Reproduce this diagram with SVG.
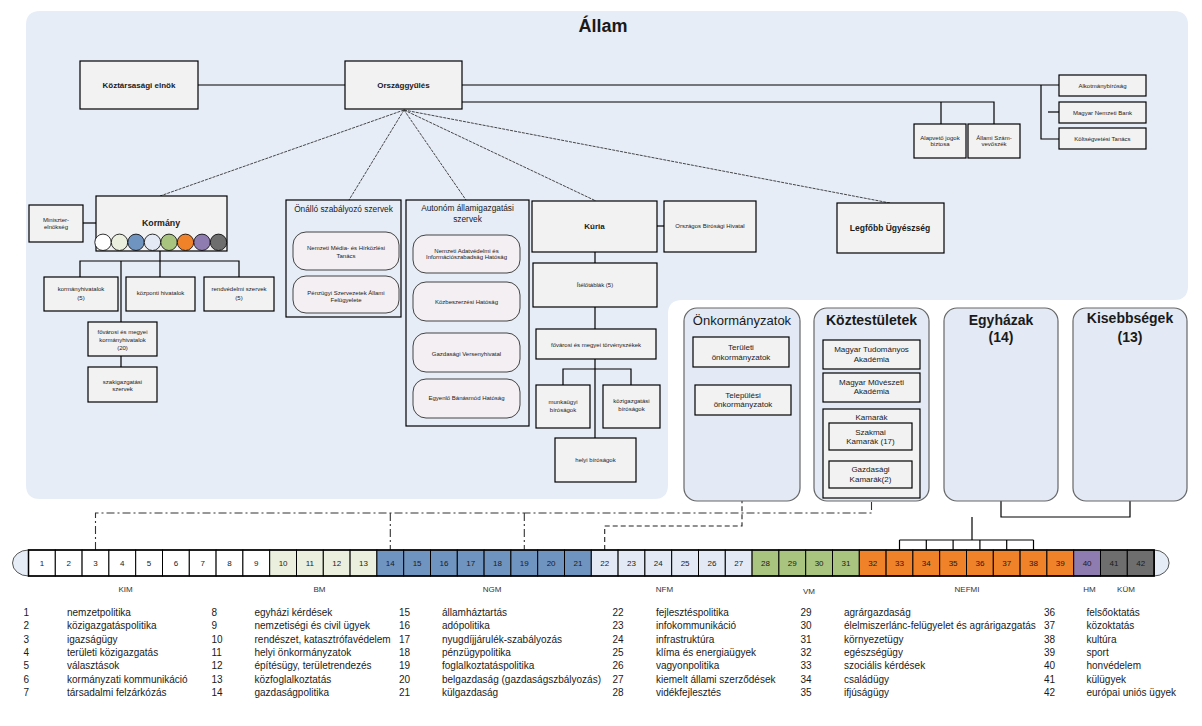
<svg xmlns="http://www.w3.org/2000/svg" width="1202" height="726" viewBox="0 0 1202 726">
<style>
text{font-family:"Liberation Sans",Arial,sans-serif;fill:#1a1a1a}
.t{text-anchor:middle}
.s6{font-size:6px}
.s8{font-size:8px}
.b{font-weight:bold}
.box{fill:#f2f2f2;stroke:#000;stroke-width:1.2}
.rbox{fill:#f3eff3;stroke:#444;stroke-width:1}
.grp{fill:#e6edf7;stroke:#000;stroke-width:1.2}
.pan{fill:#e3eaf5;stroke:#666;stroke-width:1.2}
.ln{fill:none;stroke:#000;stroke-width:1.2}
.fan{fill:none;stroke:#333;stroke-width:0.9;stroke-dasharray:3 1}
.dd{fill:none;stroke:#333;stroke-width:1.1;stroke-dasharray:8 3 2 3}
.da{fill:none;stroke:#222;stroke-width:1.1;stroke-dasharray:5 3}
.cell{stroke:#000;stroke-width:1}
.num{font-size:8px;text-anchor:middle}
.min{font-size:8px;text-anchor:middle;fill:#333}
.lg{font-size:10px}
.c0{fill:#ffffff}.c1{fill:#ebf0de}.c2{fill:#7094c0}.c3{fill:#e3eaf5}.c4{fill:#a9c47f}.c5{fill:#f0822a}.c6{fill:#8e7cb0}.c7{fill:#6e6e6e}
</style>

<path id="allam-panel" d="M40 11 H1174 Q1188 11 1188 25 V286 Q1188 300 1174 300 H682 Q668 300 668 314 V485 Q668 499 654 499 H40 Q26 499 26 485 V25 Q26 11 40 11 Z" fill="#e6edf7"/>
<text class="t b" x="603" y="32" font-size="18">Állam</text>

<g id="connectors">
  <line class="ln" x1="198" y1="85" x2="345" y2="85"/>
  <polyline class="ln" points="462,85 1059,85"/>
  <polyline class="ln" points="1041,85 1041,139 1059,139"/>
  <line class="ln" x1="1048" y1="112" x2="1059" y2="112"/>
  <polyline class="ln" points="462,102 994,102 994,124"/>
  <line class="ln" x1="941" y1="102" x2="941" y2="124"/>
  <line class="fan" x1="404" y1="110" x2="160" y2="196"/>
  <line class="fan" x1="404" y1="110" x2="349" y2="200"/>
  <line class="fan" x1="404" y1="110" x2="466" y2="200"/>
  <line class="fan" x1="404" y1="110" x2="596" y2="201"/>
  <line class="fan" x1="404" y1="110" x2="890" y2="203"/>
  <line class="ln" x1="83" y1="223" x2="96" y2="223"/>
  <line class="ln" x1="160" y1="251" x2="160" y2="277"/>
  <polyline class="ln" points="80,277 80,261 239,261 239,277"/>
  <line class="ln" x1="121" y1="261" x2="121" y2="322"/>
  <line class="ln" x1="121" y1="356" x2="121" y2="367"/>
  <line class="ln" x1="657" y1="226" x2="664" y2="226"/>
  <line class="ln" x1="595" y1="252" x2="595" y2="263"/>
  <line class="ln" x1="595" y1="307" x2="595" y2="329"/>
  <line class="ln" x1="595" y1="359" x2="595" y2="438"/>
  <polyline class="ln" points="563,385 563,369 631,369 631,385"/>
  <polyline class="dd" points="95.5,550 95.5,513 871.5,513 871.5,501"/>
  <line class="dd" x1="390.3" y1="513" x2="390.3" y2="550"/>
  <line class="dd" x1="524.3" y1="513" x2="524.3" y2="550"/>
  <polyline class="da" points="604.7,550 604.7,526 742,526 742,501"/>
  <polyline class="ln" points="1001,501 1001,517 1130,517 1130,501"/>
  <line class="ln" x1="972" y1="517" x2="972" y2="540"/>
  <line class="ln" x1="899.5" y1="540" x2="1033.5" y2="540"/>
  <line class="ln" x1="899.5" y1="540" x2="899.5" y2="550"/>
  <line class="ln" x1="926.3" y1="540" x2="926.3" y2="550"/>
  <line class="ln" x1="953.1" y1="540" x2="953.1" y2="550"/>
  <line class="ln" x1="979.9" y1="540" x2="979.9" y2="550"/>
  <line class="ln" x1="1006.7" y1="540" x2="1006.7" y2="550"/>
  <line class="ln" x1="1033.5" y1="540" x2="1033.5" y2="550"/>
</g>

<g id="koztarsasagi-elnok"><rect class="box" x="80" y="61" width="118" height="48"/><text class="t b s8" x="139" y="88">Köztársasági elnök</text></g>
<g id="orszaggyules"><rect class="box" x="345" y="61" width="117" height="48"/><text class="t b s8" x="403.5" y="88">Országgyűlés</text></g>
<g id="alkotmanybirosag"><rect class="box" x="1059" y="75" width="87" height="21"/><text class="t s6" x="1102.5" y="88">Alkotmánybíróság</text></g>
<g id="mnb"><rect class="box" x="1059" y="102" width="87" height="21"/><text class="t s6" x="1102.5" y="114.5">Magyar Nemzeti Bank</text></g>
<g id="koltsegvetesi-tanacs"><rect class="box" x="1059" y="128" width="87" height="21"/><text class="t s6" x="1102.5" y="141">Költségvetési Tanács</text></g>
<g id="alapveto-jogok"><rect class="box" x="914" y="124" width="52" height="34"/><text class="t s6" x="940" y="139.5">Alapvető jogok</text><text class="t s6" x="940" y="146">biztosa</text></g>
<g id="allami-szamvevoszek"><rect class="box" x="968" y="124" width="52" height="34"/><text class="t s6" x="994" y="139.5">Állami Szám-</text><text class="t s6" x="994" y="146">vevőszék</text></g>
<g id="legfobb-ugyeszseg"><rect class="box" x="837" y="203" width="107" height="50"/><text class="t b" font-size="8.5" x="890" y="231">Legfőbb Ügyészség</text></g>

<g id="miniszterelnokseg"><rect class="box" x="29" y="205" width="54" height="37"/><text class="t s6" x="56" y="222">Miniszter-</text><text class="t s6" x="56" y="229">elnökség</text></g>
<g id="kormany"><rect class="box" x="96" y="196" width="131" height="55"/><text class="t b" font-size="8.8" x="161" y="226">Kormány</text>
  <g stroke="#000" stroke-width="0.8">
    <circle class="c0" cx="103" cy="242.3" r="8.2"/>
    <circle class="c1" cx="119.5" cy="242.3" r="8.2"/>
    <circle class="c2" cx="136" cy="242.3" r="8.2"/>
    <circle class="c3" cx="152.5" cy="242.3" r="8.2"/>
    <circle class="c4" cx="169" cy="242.3" r="8.2"/>
    <circle class="c5" cx="185.5" cy="242.3" r="8.2"/>
    <circle class="c6" cx="202" cy="242.3" r="8.2"/>
    <circle class="c7" cx="218.5" cy="242.3" r="8.2"/>
  </g>
</g>
<g id="kormanyhivatalok"><rect class="box" x="44" y="277" width="74" height="34"/><text class="t s6" x="81" y="291">kormányhivatalok</text><text class="t s6" x="81" y="299.5">(5)</text></g>
<g id="kozponti-hivatalok"><rect class="box" x="126" y="277" width="69" height="34"/><text class="t s6" x="160.5" y="295">központi hivatalok</text></g>
<g id="rendvedelmi-szervek"><rect class="box" x="204" y="277" width="70" height="34"/><text class="t s6" x="239" y="291">rendvédelmi szervek</text><text class="t s6" x="239" y="299.5">(5)</text></g>
<g id="fovarosi-kormanyhivatalok"><rect class="box" x="88" y="322" width="69" height="34"/><text class="t s6" x="122.5" y="334">fővárosi és megyei</text><text class="t s6" x="122.5" y="341.5">kormányhivatalok</text><text class="t s6" x="122.5" y="349.5">(20)</text></g>
<g id="szakigazgatasi-szervek"><rect class="box" x="88" y="367" width="69" height="35"/><text class="t s6" x="122.5" y="384">szakigazgatási</text><text class="t s6" x="122.5" y="391">szervek</text></g>

<g id="onallo-szabalyozo"><rect class="grp" x="286" y="200" width="115" height="117"/><text class="t" font-size="8.3" x="343.5" y="212">Önálló szabályozó szervek</text>
  <rect class="rbox" x="293" y="232" width="106" height="38" rx="13"/><text class="t s6" x="346" y="249.5">Nemzeti Média- és Hírközlési</text><text class="t s6" x="346" y="257.5">Tanács</text>
  <rect class="rbox" x="293" y="276" width="106" height="37" rx="13"/><text class="t s6" x="346" y="295">Pénzügyi Szervezetek Állami</text><text class="t s6" x="346" y="301.5">Felügyelete</text>
</g>
<g id="autonom-allamigazgatasi"><rect class="grp" x="406" y="200" width="123" height="226"/><text class="t" font-size="8.3" x="467.5" y="211">Autonóm államigazgatási</text><text class="t" font-size="8.3" x="467.5" y="221.5">szervek</text>
  <rect class="rbox" x="413" y="235" width="107" height="38" rx="13"/><text class="t s6" x="466.5" y="253">Nemzeti Adatvédelmi és</text><text class="t s6" x="466.5" y="259">Információszabadság Hatóság</text>
  <rect class="rbox" x="413" y="282" width="107" height="39" rx="13"/><text class="t s6" x="466.5" y="304">Közbeszerzési Hatóság</text>
  <rect class="rbox" x="413" y="333" width="107" height="39" rx="13"/><text class="t s6" x="466.5" y="356">Gazdasági Versenyhivatal</text>
  <rect class="rbox" x="413" y="379" width="107" height="39" rx="13"/><text class="t s6" x="466.5" y="399.5">Egyenlő Bánásmód Hatóság</text>
</g>

<g id="kuria"><rect class="box" x="532" y="201" width="125" height="51"/><text class="t b s8" x="594.5" y="229">Kúria</text></g>
<g id="orszagos-birosagi-hivatal"><rect class="box" x="664" y="201" width="92" height="51"/><text class="t s6" x="710" y="228">Országos Bírósági Hivatal</text></g>
<g id="iteltablak"><rect class="box" x="533" y="263" width="124" height="44"/><text class="t s6" x="595" y="287">Ítélőtáblák (5)</text></g>
<g id="torvenyszekek"><rect class="box" x="536" y="329" width="120" height="30"/><text class="t s6" x="596" y="346.5">fővárosi és megyei törvényszékek</text></g>
<g id="munkaugyi-birosagok"><rect class="box" x="536" y="385" width="54" height="43"/><text class="t s6" x="563" y="404">munkaügyi</text><text class="t s6" x="563" y="412">bíróságok</text></g>
<g id="kozigazgatasi-birosagok"><rect class="box" x="603" y="385" width="57" height="43"/><text class="t s6" x="631.5" y="403">közigazgatási</text><text class="t s6" x="631.5" y="411">bíróságok</text></g>
<g id="helyi-birosagok"><rect class="box" x="555" y="438" width="81" height="44"/><text class="t s6" x="595.5" y="462">helyi bíróságok</text></g>

<g id="onkormanyzatok"><rect class="pan" x="684" y="308" width="116" height="193" rx="13"/><text class="t" font-size="13" x="742" y="324.5">Önkormányzatok</text>
  <rect class="box" x="693" y="337" width="96" height="30"/><text class="t s8" x="741" y="350">Területi</text><text class="t s8" x="741" y="360">önkormányzatok</text>
  <rect class="box" x="695" y="385" width="96" height="30"/><text class="t s8" x="743" y="397.5">Települési</text><text class="t s8" x="743" y="406.5">önkormányzatok</text>
</g>
<g id="koztestuletek"><rect class="pan" x="814" y="308" width="115" height="193" rx="13"/><text class="t b" font-size="14" x="871.5" y="324.5">Köztestületek</text>
  <rect class="box" x="823" y="340" width="97" height="29"/><text class="t s8" x="871.5" y="352">Magyar Tudományos</text><text class="t s8" x="871.5" y="361.5">Akadémia</text>
  <rect class="box" x="823" y="373" width="97" height="29"/><text class="t s8" x="871.5" y="384.5">Magyar Művészeti</text><text class="t s8" x="871.5" y="394">Akadémia</text>
  <rect class="box" x="823" y="409" width="97" height="89"/><text class="t s8" x="871.5" y="420">Kamarák</text>
  <rect class="box" x="829" y="423" width="83" height="27"/><text class="t s8" x="870.5" y="434.5">Szakmai</text><text class="t s8" x="870.5" y="444">Kamarák (17)</text>
  <rect class="box" x="829" y="461" width="83" height="27"/><text class="t s8" x="870.5" y="472">Gazdasági</text><text class="t s8" x="870.5" y="481.5">Kamarák(2)</text>
</g>
<g id="egyhazak"><rect class="pan" x="944" y="308" width="114" height="193" rx="13"/><text class="t b" font-size="14" x="1001" y="324.5">Egyházak</text><text class="t b" font-size="14" x="1001" y="342">(14)</text></g>
<g id="kisebbsegek"><rect class="pan" x="1073" y="308" width="114" height="193" rx="13"/><text class="t b" font-size="14" x="1130" y="323">Kisebbségek</text><text class="t b" font-size="14" x="1130" y="342">(13)</text></g>

<g id="ministry-bar">
  <path d="M28.5 550 A16 13 0 0 0 28.5 576 Z" fill="#e6edf7" stroke="#555" stroke-width="1"/>
  <path d="M1154.1 550 A15 13 0 0 1 1154.1 576 Z" fill="#e6edf7" stroke="#555" stroke-width="1"/>
  <g class="cell">
    <rect class="c0" x="28.5" y="550" width="26.8" height="26"/>
    <rect class="c0" x="55.3" y="550" width="26.8" height="26"/>
    <rect class="c0" x="82.1" y="550" width="26.8" height="26"/>
    <rect class="c0" x="108.9" y="550" width="26.8" height="26"/>
    <rect class="c0" x="135.7" y="550" width="26.8" height="26"/>
    <rect class="c0" x="162.5" y="550" width="26.8" height="26"/>
    <rect class="c0" x="189.3" y="550" width="26.8" height="26"/>
    <rect class="c0" x="216.1" y="550" width="26.8" height="26"/>
    <rect class="c0" x="242.9" y="550" width="26.8" height="26"/>
    <rect class="c1" x="269.7" y="550" width="26.8" height="26"/>
    <rect class="c1" x="296.5" y="550" width="26.8" height="26"/>
    <rect class="c1" x="323.3" y="550" width="26.8" height="26"/>
    <rect class="c1" x="350.1" y="550" width="26.8" height="26"/>
    <rect class="c2" x="376.9" y="550" width="26.8" height="26"/>
    <rect class="c2" x="403.7" y="550" width="26.8" height="26"/>
    <rect class="c2" x="430.5" y="550" width="26.8" height="26"/>
    <rect class="c2" x="457.3" y="550" width="26.8" height="26"/>
    <rect class="c2" x="484.1" y="550" width="26.8" height="26"/>
    <rect class="c2" x="510.9" y="550" width="26.8" height="26"/>
    <rect class="c2" x="537.7" y="550" width="26.8" height="26"/>
    <rect class="c2" x="564.5" y="550" width="26.8" height="26"/>
    <rect class="c3" x="591.3" y="550" width="26.8" height="26"/>
    <rect class="c3" x="618.1" y="550" width="26.8" height="26"/>
    <rect class="c3" x="644.9" y="550" width="26.8" height="26"/>
    <rect class="c3" x="671.7" y="550" width="26.8" height="26"/>
    <rect class="c3" x="698.5" y="550" width="26.8" height="26"/>
    <rect class="c3" x="725.3" y="550" width="26.8" height="26"/>
    <rect class="c4" x="752.1" y="550" width="26.8" height="26"/>
    <rect class="c4" x="778.9" y="550" width="26.8" height="26"/>
    <rect class="c4" x="805.7" y="550" width="26.8" height="26"/>
    <rect class="c4" x="832.5" y="550" width="26.8" height="26"/>
    <rect class="c5" x="859.3" y="550" width="26.8" height="26"/>
    <rect class="c5" x="886.1" y="550" width="26.8" height="26"/>
    <rect class="c5" x="912.9" y="550" width="26.8" height="26"/>
    <rect class="c5" x="939.7" y="550" width="26.8" height="26"/>
    <rect class="c5" x="966.5" y="550" width="26.8" height="26"/>
    <rect class="c5" x="993.3" y="550" width="26.8" height="26"/>
    <rect class="c5" x="1020.1" y="550" width="26.8" height="26"/>
    <rect class="c5" x="1046.9" y="550" width="26.8" height="26"/>
    <rect class="c6" x="1073.7" y="550" width="26.8" height="26"/>
    <rect class="c7" x="1100.5" y="550" width="26.8" height="26"/>
    <rect class="c7" x="1127.3" y="550" width="26.8" height="26"/>
  </g>
  <rect x="28.5" y="550" width="1125.6" height="26" fill="none" stroke="#000" stroke-width="1.5"/>
  <g>
    <text class="num" x="41.9" y="566">1</text><text class="num" x="68.7" y="566">2</text><text class="num" x="95.5" y="566">3</text><text class="num" x="122.3" y="566">4</text><text class="num" x="149.1" y="566">5</text><text class="num" x="175.9" y="566">6</text><text class="num" x="202.7" y="566">7</text><text class="num" x="229.5" y="566">8</text><text class="num" x="256.3" y="566">9</text><text class="num" x="283.1" y="566">10</text><text class="num" x="309.9" y="566">11</text><text class="num" x="336.7" y="566">12</text><text class="num" x="363.5" y="566">13</text><text class="num" x="390.3" y="566">14</text><text class="num" x="417.1" y="566">15</text><text class="num" x="443.9" y="566">16</text><text class="num" x="470.7" y="566">17</text><text class="num" x="497.5" y="566">18</text><text class="num" x="524.3" y="566">19</text><text class="num" x="551.1" y="566">20</text><text class="num" x="577.9" y="566">21</text><text class="num" x="604.7" y="566">22</text><text class="num" x="631.5" y="566">23</text><text class="num" x="658.3" y="566">24</text><text class="num" x="685.1" y="566">25</text><text class="num" x="711.9" y="566">26</text><text class="num" x="738.7" y="566">27</text><text class="num" x="765.5" y="566">28</text><text class="num" x="792.3" y="566">29</text><text class="num" x="819.1" y="566">30</text><text class="num" x="845.9" y="566">31</text><text class="num" x="872.7" y="566">32</text><text class="num" x="899.5" y="566">33</text><text class="num" x="926.3" y="566">34</text><text class="num" x="953.1" y="566">35</text><text class="num" x="979.9" y="566">36</text><text class="num" x="1006.7" y="566">37</text><text class="num" x="1033.5" y="566">38</text><text class="num" x="1060.3" y="566">39</text><text class="num" x="1087.1" y="566">40</text><text class="num" x="1113.9" y="566">41</text><text class="num" x="1140.7" y="566">42</text>
  </g>
  <g>
    <text class="min" x="125.5" y="592">KIM</text>
    <text class="min" x="319.5" y="592">BM</text>
    <text class="min" x="492" y="592">NGM</text>
    <text class="min" x="664.5" y="592">NFM</text>
    <text class="min" x="809" y="594">VM</text>
    <text class="min" x="967" y="592">NEFMI</text>
    <text class="min" x="1089.5" y="592">HM</text>
    <text class="min" x="1126" y="592">KÜM</text>
  </g>
</g>

<g id="legend" class="lg">
  <text class="lg" x="23.5" y="616">1</text><text class="lg" x="67" y="616">nemzetpolitika</text>
  <text class="lg" x="23.5" y="629.3">2</text><text class="lg" x="67" y="629.3">közigazgatáspolitika</text>
  <text class="lg" x="23.5" y="642.7">3</text><text class="lg" x="67" y="642.7">igazságügy</text>
  <text class="lg" x="23.5" y="656">4</text><text class="lg" x="67" y="656">területi közigazgatás</text>
  <text class="lg" x="23.5" y="669.3">5</text><text class="lg" x="67" y="669.3">választások</text>
  <text class="lg" x="23.5" y="682.7">6</text><text class="lg" x="67" y="682.7">kormányzati kommunikáció</text>
  <text class="lg" x="23.5" y="696">7</text><text class="lg" x="67" y="696">társadalmi felzárkózás</text>

  <text class="lg" x="211.5" y="616">8</text><text class="lg" x="254.5" y="616">egyházi kérdések</text>
  <text class="lg" x="211.5" y="629.3">9</text><text class="lg" x="254.5" y="629.3">nemzetiségi és civil ügyek</text>
  <text class="lg" x="211.5" y="642.7">10</text><text class="lg" x="254.5" y="642.7">rendészet, katasztrófavédelem</text>
  <text class="lg" x="211.5" y="656">11</text><text class="lg" x="254.5" y="656">helyi önkormányzatok</text>
  <text class="lg" x="211.5" y="669.3">12</text><text class="lg" x="254.5" y="669.3">építésügy, területrendezés</text>
  <text class="lg" x="211.5" y="682.7">13</text><text class="lg" x="254.5" y="682.7">közfoglalkoztatás</text>
  <text class="lg" x="211.5" y="696">14</text><text class="lg" x="254.5" y="696">gazdaságpolitika</text>

  <text class="lg" x="399" y="616">15</text><text class="lg" x="442" y="616">államháztartás</text>
  <text class="lg" x="399" y="629.3">16</text><text class="lg" x="442" y="629.3">adópolitika</text>
  <text class="lg" x="399" y="642.7">17</text><text class="lg" x="442" y="642.7">nyugdíjjárulék-szabályozás</text>
  <text class="lg" x="399" y="656">18</text><text class="lg" x="442" y="656">pénzügypolitika</text>
  <text class="lg" x="399" y="669.3">19</text><text class="lg" x="442" y="669.3">foglalkoztatáspolitika</text>
  <text class="lg" x="399" y="682.7">20</text><text class="lg" x="442" y="682.7">belgazdaság (gazdaságszbályozás)</text>
  <text class="lg" x="399" y="696">21</text><text class="lg" x="442" y="696">külgazdaság</text>

  <text class="lg" x="612.5" y="616">22</text><text class="lg" x="656" y="616">fejlesztéspolitika</text>
  <text class="lg" x="612.5" y="629.3">23</text><text class="lg" x="656" y="629.3">infokommunikáció</text>
  <text class="lg" x="612.5" y="642.7">24</text><text class="lg" x="656" y="642.7">infrastruktúra</text>
  <text class="lg" x="612.5" y="656">25</text><text class="lg" x="656" y="656">klíma és energiaügyek</text>
  <text class="lg" x="612.5" y="669.3">26</text><text class="lg" x="656" y="669.3">vagyonpolitika</text>
  <text class="lg" x="612.5" y="682.7">27</text><text class="lg" x="656" y="682.7">kiemelt állami szerződések</text>
  <text class="lg" x="612.5" y="696">28</text><text class="lg" x="656" y="696">vidékfejlesztés</text>

  <text class="lg" x="800.5" y="616">29</text><text class="lg" x="844" y="616">agrárgazdaság</text>
  <text class="lg" x="800.5" y="629.3">30</text><text class="lg" x="844" y="629.3">élelmiszerlánc-felügyelet és agrárigazgatás</text>
  <text class="lg" x="800.5" y="642.7">31</text><text class="lg" x="844" y="642.7">környezetügy</text>
  <text class="lg" x="800.5" y="656">32</text><text class="lg" x="844" y="656">egészségügy</text>
  <text class="lg" x="800.5" y="669.3">33</text><text class="lg" x="844" y="669.3">szociális kérdések</text>
  <text class="lg" x="800.5" y="682.7">34</text><text class="lg" x="844" y="682.7">családügy</text>
  <text class="lg" x="800.5" y="696">35</text><text class="lg" x="844" y="696">ifjúságügy</text>

  <text class="lg" x="1044" y="616">36</text><text class="lg" x="1086.5" y="616">felsőoktatás</text>
  <text class="lg" x="1044" y="629.3">37</text><text class="lg" x="1086.5" y="629.3">közoktatás</text>
  <text class="lg" x="1044" y="642.7">38</text><text class="lg" x="1086.5" y="642.7">kultúra</text>
  <text class="lg" x="1044" y="656">39</text><text class="lg" x="1086.5" y="656">sport</text>
  <text class="lg" x="1044" y="669.3">40</text><text class="lg" x="1086.5" y="669.3">honvédelem</text>
  <text class="lg" x="1044" y="682.7">41</text><text class="lg" x="1086.5" y="682.7">külügyek</text>
  <text class="lg" x="1044" y="696">42</text><text class="lg" x="1086.5" y="696">európai uniós ügyek</text>
</g>
</svg>
